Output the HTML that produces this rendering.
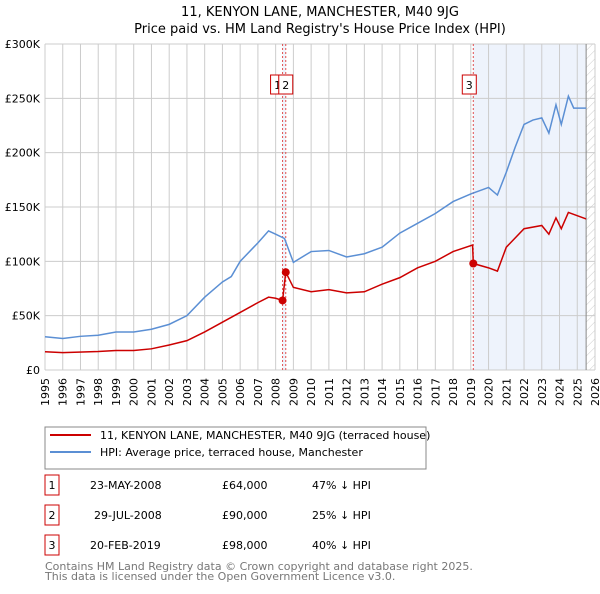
<!DOCTYPE html>
<html><head><meta charset="utf-8"><style>
body{margin:0;background:#fff;font-family:"DejaVu Sans","Liberation Sans",sans-serif;}
svg text{font-family:"DejaVu Sans","Liberation Sans",sans-serif;}
</style></head><body>
<svg width="600" height="590" xmlns="http://www.w3.org/2000/svg" id="chart">
<defs><pattern id="hatch" width="6" height="6" patternUnits="userSpaceOnUse" patternTransform="rotate(45)"><line x1="0" y1="0" x2="0" y2="6" stroke="#ccc" stroke-width="1"/></pattern></defs>
<text x="320" y="16" text-anchor="middle" font-size="13">11, KENYON LANE, MANCHESTER, M40 9JG</text>
<text x="320" y="33" text-anchor="middle" font-size="13">Price paid vs. HM Land Registry's House Price Index (HPI)</text>
<g id="plot"></g>
<rect x="45" y="427" width="381" height="42" fill="#fff" stroke="#888"/>
<line x1="50" y1="435" x2="91" y2="435" stroke="#cc0000" stroke-width="2"/>
<text x="100" y="439" font-size="11">11, KENYON LANE, MANCHESTER, M40 9JG (terraced house)</text>
<line x1="50" y1="452" x2="91" y2="452" stroke="#5b8fd4" stroke-width="2"/>
<text x="100" y="456" font-size="11">HPI: Average price, terraced house, Manchester</text>
<g font-size="11">
<rect x="45" y="475" width="14" height="20" fill="#fff" stroke="#cc0000"/><text x="52" y="489" text-anchor="middle">1</text>
<text x="90" y="489">23-MAY-2008</text><text x="222" y="489">£64,000</text><text x="312" y="489">47% ↓ HPI</text>
<rect x="45" y="505" width="14" height="20" fill="#fff" stroke="#cc0000"/><text x="52" y="519" text-anchor="middle">2</text>
<text x="94" y="519">29-JUL-2008</text><text x="222" y="519">£90,000</text><text x="312" y="519">25% ↓ HPI</text>
<rect x="45" y="535" width="14" height="20" fill="#fff" stroke="#cc0000"/><text x="52" y="549" text-anchor="middle">3</text>
<text x="90" y="549">20-FEB-2019</text><text x="222" y="549">£98,000</text><text x="312" y="549">40% ↓ HPI</text>
</g>
<text x="45" y="570" font-size="11" fill="#777">Contains HM Land Registry data © Crown copyright and database right 2025.</text>
<text x="45" y="580" font-size="11" fill="#777">This data is licensed under the Open Government Licence v3.0.</text>
</svg>
<script>
const hpiYears=[1995,1996,1997,1998,1999,2000,2001,2002,2003,2004,2005,2005.5,2006,2007,2007.6,2008,2008.5,2009,2010,2011,2012,2013,2014,2015,2016,2017,2018,2019,2020,2020.5,2021,2021.5,2022,2022.5,2023,2023.4,2023.8,2024.1,2024.5,2024.8,2025.5];
const hpiValues=[30.6,29,31,32,35,35,37.5,42,50,67,81,86,100,117,128,125,121,99,109,110,104,107,113,126,135,144,155,162,168,161,182,205,226,230,232,218,244,226,252,241,241];
const propYears=[1995,1996,1998,1999,2000,2001,2002,2003,2004,2005,2006,2007,2007.6,2008,2008.39,2008.57,2009,2010,2011,2012,2013,2014,2015,2016,2017,2018,2019.1,2019.14,2020,2020.5,2021,2022,2023,2023.4,2023.8,2024.1,2024.5,2025.5];
const propValues=[16.8,16,17,18,18,19.5,23,27,35,44,53,62,67,66,64,90,76,72,74,71,72,79,85,94,100,109,115,98,94,91,113,130,133,125,140,130,145,139];
const saleYears=[2008.39,2008.57,2019.14];
const saleValues=[64,90,98];
const saleLabels=["1","2","3"];
const yTicks=[0,50,100,150,200,250,300];
const yTickLabels=["£0","£50K","£100K","£150K","£200K","£250K","£300K"];
const xTickYears=[1995,1996,1997,1998,1999,2000,2001,2002,2003,2004,2005,2006,2007,2008,2009,2010,2011,2012,2013,2014,2015,2016,2017,2018,2019,2020,2021,2022,2023,2024,2025,2026];
const NS="http://www.w3.org/2000/svg";
const X0=45,X1=595,Y0=370,Y1=44;
function xs(y){return X0+(y-1995)/(2026-1995)*(X1-X0);}
function ys(v){return Y0-v/300*(Y0-Y1);}
const g=document.getElementById('plot');
function mk(t,a){const e=document.createElementNS(NS,t);for(const k in a)e.setAttribute(k,a[k]);g.appendChild(e);return e;}
let e;
e=mk('rect',{x:xs(2019.14),y:Y1,width:xs(2025.5)-xs(2019.14),height:Y0-Y1,fill:'#eef3fc'});


e=mk('rect',{x:xs(2008.39),y:Y1,width:xs(2008.57)-xs(2008.39),height:Y0-Y1,fill:'#eef3fc'});


e=mk('rect',{x:xs(2025.5),y:Y1,width:X1-xs(2025.5),height:Y0-Y1,fill:'url(#hatch)'});


xTickYears.forEach(y=>{
 e=mk('line',{x1:xs(y),x2:xs(y),y1:Y1,y2:Y0,stroke:'#ccc','stroke-width':1});
 
 
 e=mk('text',{x:0,y:0,'font-size':11,'text-anchor':'end',transform:`translate(${xs(y)+4},${Y0+8}) rotate(-90)`});
 e.textContent=y;
 
 
});
yTicks.forEach((v,i)=>{
 e=mk('line',{x1:X0,x2:X1,y1:ys(v),y2:ys(v),stroke:'#ccc','stroke-width':1});
 
 
 e=mk('text',{x:X0-5,y:ys(v)+4,'font-size':11,'text-anchor':'end'});
 e.textContent=yTickLabels[i];
 
 
});
e=mk('line',{x1:xs(2025.5),x2:xs(2025.5),y1:Y1,y2:Y0,stroke:'#888','stroke-width':1});


saleYears.forEach((y,i)=>{
 e=mk('line',{x1:xs(y),x2:xs(y),y1:Y1,y2:Y0,stroke:'#e05050','stroke-width':1,'stroke-dasharray':'2,2'});
 
 
});
e=mk('polyline',{points:hpiYears.map((y,i)=>xs(y)+','+ys(hpiValues[i])).join(' '),fill:'none',stroke:'#5b8fd4','stroke-width':1.5});


e=mk('polyline',{points:propYears.map((y,i)=>xs(y)+','+ys(propValues[i])).join(' '),fill:'none',stroke:'#cc0000','stroke-width':1.5});


saleYears.forEach((y,i)=>{
 e=mk('circle',{cx:xs(y),cy:ys(saleValues[i]),r:4,fill:'#cc0000'});
 
 
});
[[0,-5],[1,0],[2,-4]].forEach(([i,dx])=>{
 const cx=xs(saleYears[i])+dx;
 e=mk('rect',{x:cx-7,y:75,width:14,height:19,fill:'#fff',stroke:'#cc0000'});
 
 
 e=mk('text',{x:cx,y:89,'font-size':11,'text-anchor':'middle'});
 e.textContent=saleLabels[i];
 
 
});
</script>
</body></html>
